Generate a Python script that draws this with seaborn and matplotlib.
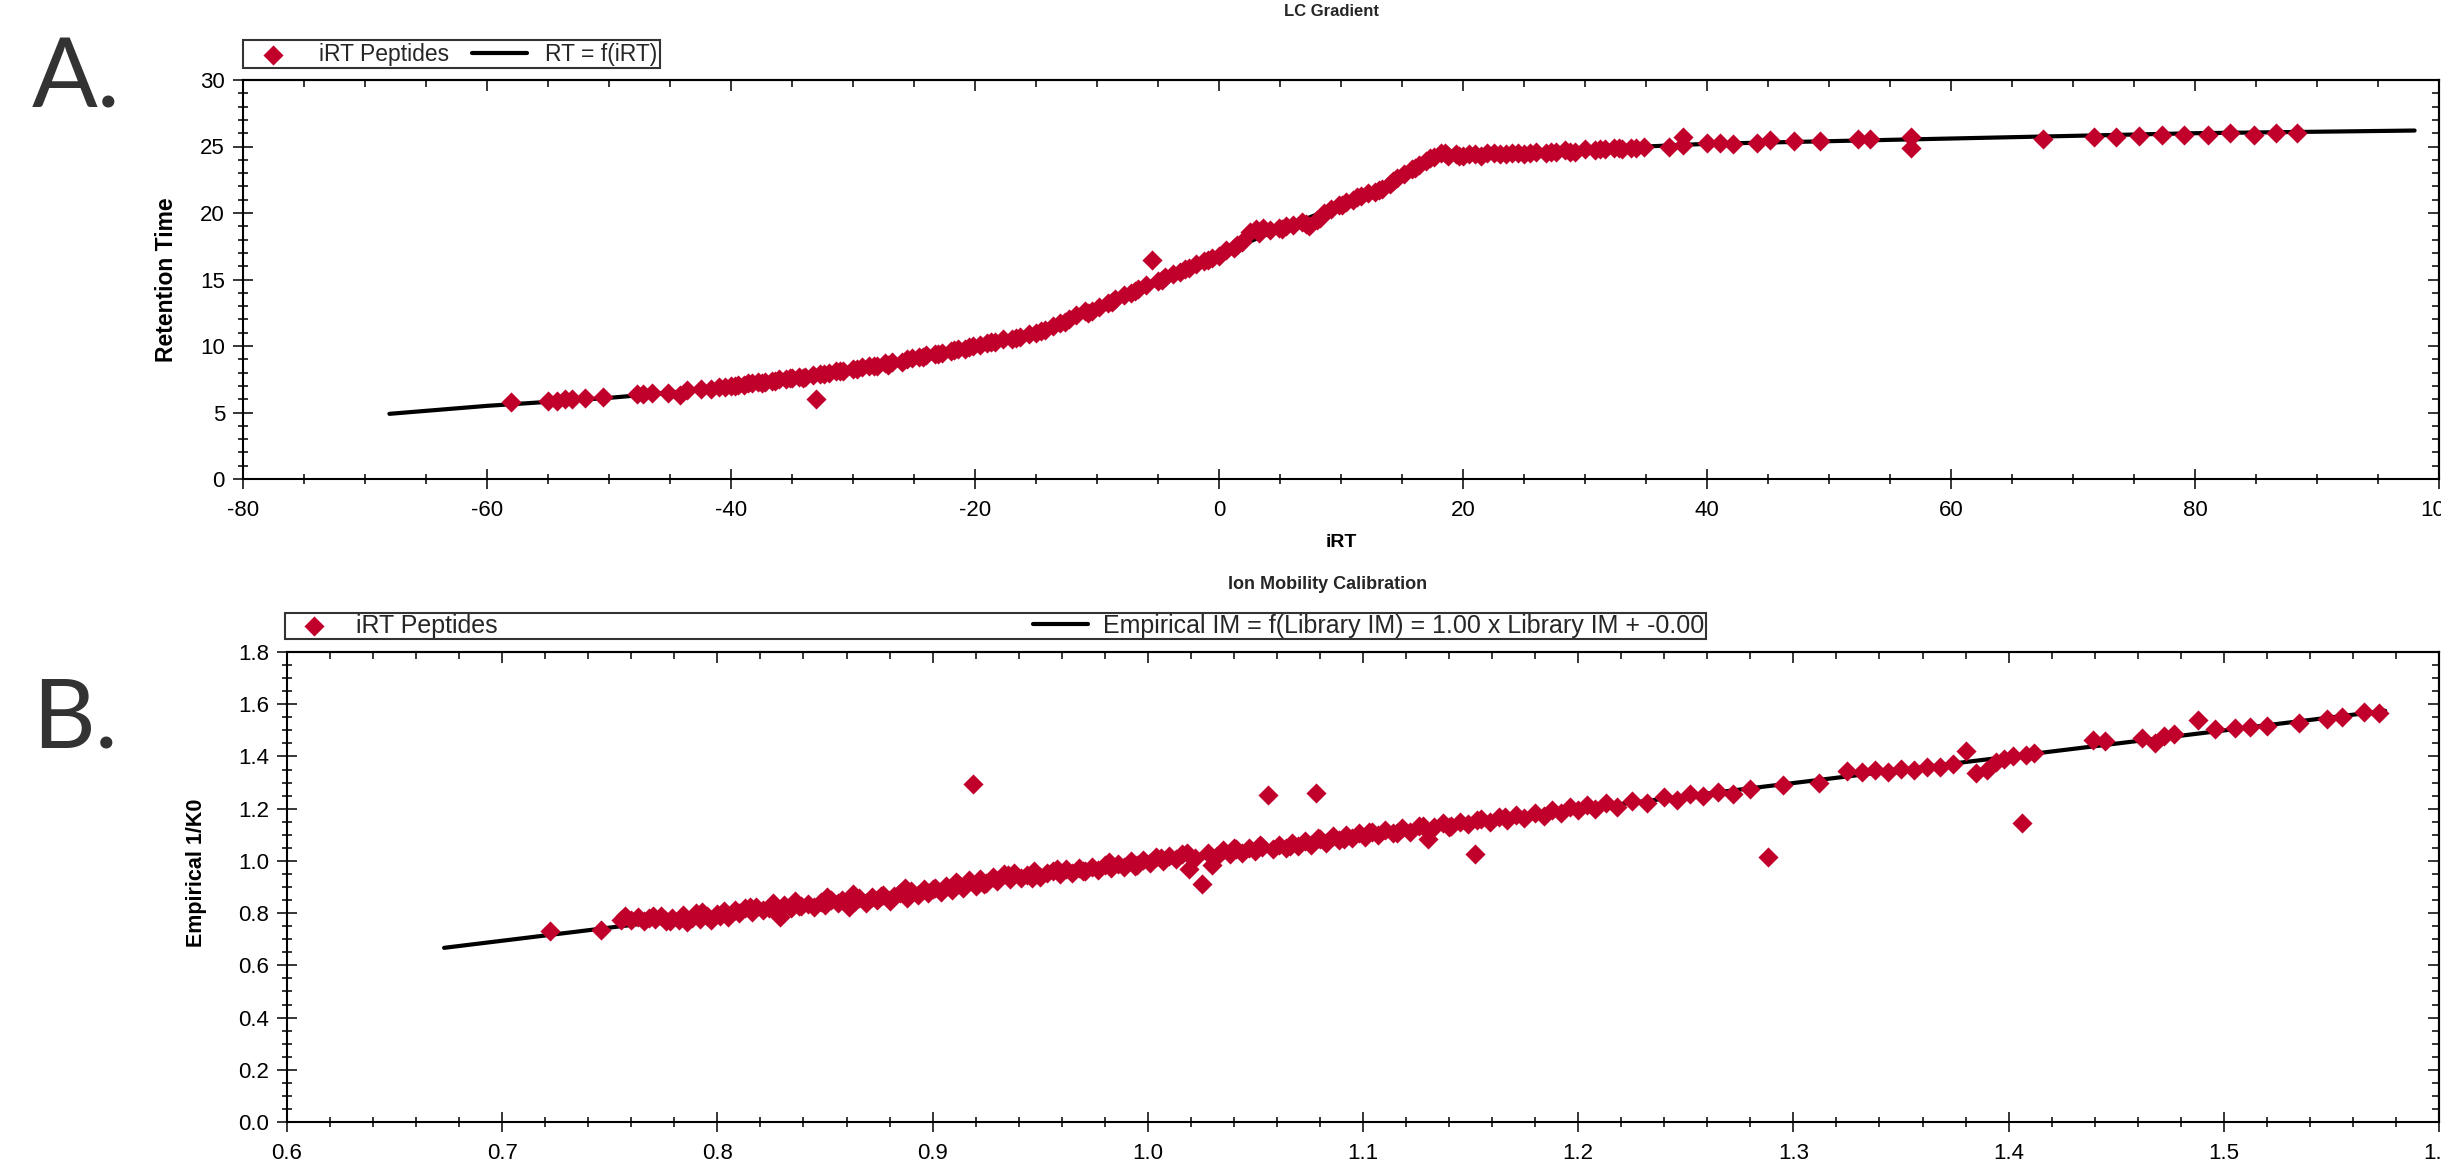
import matplotlib
matplotlib.use("Agg")
import matplotlib.pyplot as plt
import seaborn as sns
from matplotlib.ticker import MultipleLocator, FormatStrFormatter

# ---------------- Panel A : LC Gradient ----------------
lc_irt = [
    -58.0, -55.0, -54.3, -53.6, -53.0, -52.0, -50.5, -47.7, -47.2, -46.5, -45.2, -44.2, -43.6, -42.5,
    -41.6, -41.0, -40.5, -40.0, -39.4, -38.9, -38.3, -37.8, -37.2, -36.6, -36.1, -35.5, -35.0, -34.4,
    -33.9, -33.0, -33.3, -32.7, -32.0, -31.4, -30.8, -30.0, -29.3, -28.7, -28.0, -27.4, -26.8, -26.0,
    -25.2, -24.6, -24.0, -23.3, -22.7, -22.0, -21.4, -20.8, -20.2, -19.6, -19.0, -18.4, -17.7, -17.0,
    -16.3, -15.6, -15.0, -14.3, -13.6, -13.0, -12.3, -11.7, -11.0, -10.4, -9.8, -9.1, -8.5, -7.8,
    -7.2, -6.6, -6.0, -5.5, -5.0, -4.4, -3.8, -3.2, -2.5, -1.9, -1.2, -0.6, 0.0, 0.6, 1.2, 1.9, 2.5,
    3.0, 3.6, 4.2, 4.9, 5.5, 6.1, 6.8, 7.4, 8.0, 8.6, 9.2, 9.8, 10.4, 11.0, 11.6, 12.2, 12.8, 13.4,
    14.0, 14.6, 15.2, 15.8, 16.4, 17.0, 17.6, 18.2, 18.8, 19.4, 20.0, 21.0, 22.0, 23.0, 24.0, 25.0,
    26.0, 26.8, 27.6, 28.4, 29.2, 30.0, 30.8, 31.6, 32.4, 33.0, 33.8, 34.8, 36.9, 38.0, 38.0, 40.0,
    41.1, 42.1, 44.1, 45.2, 47.1, 49.3, 52.4, 53.4, 56.7, 56.7, 67.5, 71.7, 73.5, 75.4, 77.3, 79.1,
    81.1, 82.9, 84.8, 86.6, 88.4,
    -39.7, -38.6, -37.5, -36.4, -35.2, -34.1, -32.4, -31.1, -29.7, -28.3, -27.1, -25.6, -24.3, -23.0,
    -21.7, -20.5, -18.7, -16.6, -14.6, -12.6, -10.7, -8.8, -6.9, -4.7, -2.8, -0.9, 1.5, 3.3, 5.2,
    7.1, 8.3, 10.1, 11.3, 13.1, 14.3, 16.1, 17.3, 18.5, 19.7, 20.5, 21.5, 22.5, 23.5, 24.5, 25.5,
    27.2, 28.8, 31.2, 32.8, 34.2,
]
lc_rt = [
    5.8, 5.9, 5.9, 6.0, 6.0, 6.1, 6.2, 6.4, 6.4, 6.5, 6.5, 6.3, 6.7, 6.8,
    6.8, 6.9, 6.9, 7.0, 7.1, 7.1, 7.2, 7.3, 7.3, 7.4, 7.5, 7.5, 7.6, 7.7,
    7.7, 6.0, 7.8, 7.9, 8.0, 8.1, 8.1, 8.3, 8.4, 8.5, 8.5, 8.7, 8.8, 8.8,
    9.1, 9.2, 9.3, 9.4, 9.5, 9.6, 9.8, 9.8, 10.0, 10.1, 10.2, 10.3, 10.5, 10.5,
    10.7, 10.9, 11.0, 11.2, 11.5, 11.7, 12.0, 12.3, 12.6, 12.6, 12.9, 13.2, 13.5, 13.8,
    14.0, 14.3, 14.6, 16.5, 14.9, 15.2, 15.4, 15.6, 15.9, 16.2, 16.4, 16.6, 16.8, 17.2, 17.4, 17.8, 18.6,
    18.8, 18.9, 18.7, 18.9, 19.0, 19.1, 19.3, 19.0, 19.5, 20.0, 20.3, 20.6, 20.8, 21.0, 21.3, 21.5, 21.6, 21.8,
    22.2, 22.6, 22.9, 23.3, 23.6, 23.9, 24.2, 24.5, 24.3, 24.4, 24.3, 24.4, 24.5, 24.4, 24.5, 24.4,
    24.6, 24.5, 24.6, 24.7, 24.6, 24.8, 24.7, 24.8, 24.9, 24.8, 24.9, 25.0, 25.0, 25.7, 25.1, 25.3,
    25.3, 25.2, 25.3, 25.5, 25.4, 25.4, 25.6, 25.6, 25.7, 24.9, 25.6, 25.7, 25.7, 25.8, 25.9, 25.9,
    25.9, 26.0, 25.9, 26.0, 26.0,
    7.0, 7.2, 7.2, 7.4, 7.6, 7.6, 7.9, 8.1, 8.3, 8.5, 8.6, 9.0, 9.2, 9.4,
    9.7, 9.9, 10.3, 10.6, 11.1, 11.8, 12.5, 13.3, 14.1, 15.0, 15.8, 16.5, 17.6, 18.5, 18.8,
    19.2, 19.6, 20.6, 21.2, 21.7, 22.4, 23.4, 24.1, 24.5, 24.3, 24.4, 24.3, 24.5, 24.4, 24.5, 24.5,
    24.6, 24.6, 24.8, 24.9, 24.9,
]
lc_fit_irt = [-68, -60, -50, -40, -30, -25, -20, -15, -10, -5, 0, 5, 10, 15, 18, 20, 30, 40, 50, 60, 70, 80, 98]
lc_fit_rt = [4.9, 5.5, 6.1, 6.9, 8.2, 9.0, 9.9, 11.0, 12.8, 14.8, 16.9, 18.8, 20.6, 22.6, 24.1, 24.4,
             24.8, 25.2, 25.4, 25.6, 25.8, 26.0, 26.2]

# ---------------- Panel B : Ion Mobility Calibration ----------------
im_library = [
    0.722, 0.746, 0.755, 0.757, 0.760, 0.763, 0.766, 0.768, 0.771, 0.774, 0.776, 0.779, 0.782, 0.784,
    0.786, 0.788, 0.790, 0.792, 0.795, 0.797, 0.800, 0.803, 0.805, 0.808, 0.810, 0.813, 0.816, 0.818,
    0.821, 0.824, 0.827, 0.829, 0.831, 0.834, 0.836, 0.839, 0.842, 0.845, 0.848, 0.850, 0.853, 0.856,
    0.858, 0.861, 0.864, 0.866, 0.869, 0.872, 0.874, 0.877, 0.880, 0.882, 0.885, 0.888, 0.890, 0.893,
    0.896, 0.898, 0.901, 0.904, 0.906, 0.909, 0.912, 0.914, 0.917, 0.919, 0.920, 0.922, 0.925, 0.928,
    0.930, 0.933, 0.936, 0.938, 0.941, 0.944, 0.947, 0.950, 0.953, 0.956, 0.959, 0.962, 0.965, 0.968,
    0.971, 0.974, 0.977, 0.980, 0.983, 0.986, 0.989, 0.992, 0.995, 0.998, 1.001, 1.004, 1.007, 1.010,
    1.013, 1.016, 1.019, 1.022, 1.025, 1.028, 1.030, 1.032, 1.035, 1.038, 1.041, 1.044, 1.047, 1.050,
    1.053, 1.056, 1.058, 1.061, 1.064, 1.067, 1.070, 1.073, 1.076, 1.078, 1.080, 1.083, 1.086, 1.089,
    1.092, 1.095, 1.098, 1.101, 1.104, 1.107, 1.110, 1.114, 1.118, 1.122, 1.126, 1.130, 1.133, 1.137,
    1.141, 1.145, 1.149, 1.152, 1.155, 1.159, 1.163, 1.167, 1.171, 1.175, 1.180, 1.184, 1.188, 1.192,
    1.196, 1.200, 1.204, 1.208, 1.213, 1.218, 1.225, 1.232, 1.240, 1.246, 1.252, 1.258, 1.265, 1.272,
    1.280, 1.288, 1.295, 1.312, 1.325, 1.332, 1.338, 1.344, 1.350, 1.356, 1.362, 1.368, 1.374, 1.380,
    1.385, 1.390, 1.394, 1.398, 1.402, 1.406, 1.408, 1.412, 1.439, 1.445, 1.462, 1.468, 1.472, 1.477,
    1.488, 1.496, 1.505, 1.512, 1.520, 1.535, 1.548, 1.555, 1.565, 1.572,
    0.770, 0.778, 0.793, 0.801, 0.815, 0.826, 0.838, 0.851, 0.863, 0.876, 0.887, 0.900, 0.911, 0.924,
    0.935, 0.946, 0.958, 0.970, 0.982, 0.994, 1.006, 1.018, 1.040, 1.052, 1.066, 1.079, 1.091, 1.103,
    1.116, 1.128, 1.140, 1.153, 1.166,
]
im_empirical = [
    0.732, 0.737, 0.772, 0.790, 0.775, 0.785, 0.770, 0.782, 0.776, 0.788, 0.770, 0.780, 0.774, 0.792,
    0.766, 0.783, 0.800, 0.778, 0.790, 0.772, 0.795, 0.808, 0.785, 0.812, 0.800, 0.818, 0.806, 0.822,
    0.812, 0.820, 0.808, 0.785, 0.830, 0.818, 0.845, 0.828, 0.836, 0.822, 0.842, 0.832, 0.850, 0.838,
    0.852, 0.825, 0.848, 0.858, 0.840, 0.862, 0.850, 0.870, 0.845, 0.866, 0.878, 0.858, 0.885, 0.870,
    0.892, 0.876, 0.895, 0.880, 0.905, 0.888, 0.912, 0.896, 0.925, 1.293, 0.905, 0.930, 0.915, 0.940,
    0.922, 0.948, 0.930, 0.952, 0.935, 0.945, 0.960, 0.940, 0.955, 0.962, 0.948, 0.968, 0.955, 0.972,
    0.960, 0.978, 0.965, 0.985, 0.972, 0.990, 0.978, 1.000, 0.985, 1.005, 0.992, 1.015, 1.000, 1.020,
    1.008, 1.025, 0.970, 1.012, 0.913, 1.030, 0.983, 1.018, 1.040, 1.025, 1.045, 1.032, 1.050, 1.038,
    1.055, 1.254, 1.045, 1.062, 1.050, 1.068, 1.058, 1.075, 1.062, 1.259, 1.085, 1.070, 1.095, 1.080,
    1.100, 1.088, 1.105, 1.092, 1.112, 1.098, 1.118, 1.105, 1.125, 1.112, 1.135, 1.082, 1.128, 1.145,
    1.135, 1.150, 1.140, 1.027, 1.160, 1.148, 1.168, 1.158, 1.175, 1.165, 1.185, 1.172, 1.195, 1.182,
    1.205, 1.195, 1.215, 1.200, 1.220, 1.208, 1.230, 1.222, 1.245, 1.235, 1.258, 1.250, 1.262, 1.255,
    1.275, 1.015, 1.290, 1.300, 1.345, 1.340, 1.348, 1.342, 1.352, 1.350, 1.360, 1.358, 1.370, 1.420,
    1.335, 1.350, 1.380, 1.392, 1.400, 1.145, 1.405, 1.415, 1.462, 1.458, 1.470, 1.452, 1.480, 1.485,
    1.540, 1.505, 1.510, 1.512, 1.518, 1.530, 1.545, 1.552, 1.572, 1.568,
    0.788, 0.768, 0.805, 0.790, 0.822, 0.838, 0.826, 0.860, 0.872, 0.864, 0.898, 0.892, 0.920, 0.910,
    0.945, 0.936, 0.970, 0.962, 0.995, 0.980, 1.010, 1.030, 1.048, 1.060, 1.058, 1.088, 1.082, 1.110,
    1.108, 1.132, 1.130, 1.158, 1.170,
]
im_fit_library = [0.673, 1.575]
im_fit_empirical = [0.667, 1.575]

RED = "#C0002B"
W, H, DPI = 2441, 1171, 100

sns.set_theme(style="ticks")
plt.rcParams["font.family"] = ["Liberation Sans", "DejaVu Sans"]
plt.rcParams["axes.unicode_minus"] = False

fig = plt.figure(figsize=(W / DPI, H / DPI), dpi=DPI)
fig.patch.set_facecolor("white")


def fx(px):
    return px / W


def fy(py):
    return 1 - py / H


ax1 = fig.add_axes([fx(243), fy(479), (2439 - 243) / W, (479 - 80) / H])
ax2 = fig.add_axes([fx(287), fy(1122), (2439 - 287) / W, (1122 - 652) / H])

MS = 105

# --- draw panel A
sns.lineplot(x=lc_fit_irt, y=lc_fit_rt, color="black", linewidth=3.0, ax=ax1,
             label="RT = f(iRT)", sort=False, zorder=2)
sns.scatterplot(x=lc_irt, y=lc_rt, marker="D", s=MS, color=RED, linewidth=0, ax=ax1,
                label="iRT Peptides", zorder=3)

# --- draw panel B
sns.lineplot(x=im_fit_library, y=im_fit_empirical, color="black", linewidth=3.0, ax=ax2,
             label="Empirical IM = f(Library IM) = 1.00 x Library IM + -0.00", sort=False, zorder=2)
sns.scatterplot(x=im_library, y=im_empirical, marker="D", s=MS, color=RED, linewidth=0, ax=ax2,
                label="iRT Peptides", zorder=3)


def style_axes(ax, xlim, ylim, xmaj, xmin, ymaj, ymin, fmt_x, fmt_y):
    ax.set_xlim(*xlim)
    ax.set_ylim(*ylim)
    ax.set_facecolor("white")
    for s in ax.spines.values():
        s.set_visible(True)
        s.set_linewidth(1.5)
        s.set_color("black")
    ax.xaxis.set_major_locator(MultipleLocator(xmaj))
    ax.xaxis.set_minor_locator(MultipleLocator(xmin))
    ax.yaxis.set_major_locator(MultipleLocator(ymaj))
    ax.yaxis.set_minor_locator(MultipleLocator(ymin))
    ax.xaxis.set_major_formatter(FormatStrFormatter(fmt_x))
    ax.yaxis.set_major_formatter(FormatStrFormatter(fmt_y))
    ax.tick_params(which="major", direction="inout", length=14, width=1.1, color="black",
                   labelsize=16, labelcolor="black", top=False, right=False)
    ax.tick_params(which="minor", direction="inout", length=7, width=1.1, color="black",
                   top=False, right=False)
    ax.tick_params(axis="x", which="major", pad=8)
    ax.tick_params(axis="y", which="major", pad=6)
    # inward ticks on top and right
    sx = ax.secondary_xaxis("top")
    sx.xaxis.set_major_locator(MultipleLocator(xmaj))
    sx.xaxis.set_minor_locator(MultipleLocator(xmin))
    sx.tick_params(which="major", direction="in", length=8, width=1.1, color="black", labeltop=False)
    sx.tick_params(which="minor", direction="in", length=5, width=1.1, color="black")
    sy = ax.secondary_yaxis("right")
    sy.yaxis.set_major_locator(MultipleLocator(ymaj))
    sy.yaxis.set_minor_locator(MultipleLocator(ymin))
    sy.tick_params(which="major", direction="in", length=8, width=1.1, color="black", labelright=False)
    sy.tick_params(which="minor", direction="in", length=5, width=1.1, color="black")
    for sec in (sx, sy):
        for s in sec.spines.values():
            s.set_linewidth(1.5)
            s.set_color("black")


style_axes(ax1, (-80, 100), (0, 30), 20, 5, 5, 1, "%d", "%d")
style_axes(ax2, (0.6, 1.6), (0.0, 1.8), 0.1, 0.02, 0.2, 0.05, "%.1f", "%.1f")

# axis labels
ax1.set_xlabel("iRT", fontsize=14, fontweight="bold", color="black")
ax1.xaxis.set_label_coords(0.5, (479 - 534) / 399)
ax1.set_ylabel("Retention Time", fontsize=16.5, fontweight="bold", color="black")
ax1.yaxis.set_label_coords((178 - 243) / 2196, 0.5)
ax2.set_xlabel("")
ax2.set_ylabel("Empirical 1/K0", fontsize=15.5, fontweight="bold", color="black")
ax2.yaxis.set_label_coords((207 - 287) / 2152, 0.53)

# legends
h1, l1 = ax1.get_legend_handles_labels()
order1 = [l1.index("iRT Peptides"), l1.index("RT = f(iRT)")]
leg1 = ax1.legend([h1[i] for i in order1], [l1[i] for i in order1],
                  loc="lower left", bbox_to_anchor=(fx(243), fy(68)), bbox_transform=fig.transFigure,
                  ncol=2, frameon=True, fancybox=False, shadow=False, edgecolor="black",
                  fontsize=16.5, borderpad=0.1, handlelength=2.4, handletextpad=0.8,
                  columnspacing=1.0, borderaxespad=0)
leg1.get_frame().set_linewidth(1.5)

h2, l2 = ax2.get_legend_handles_labels()
order2 = [l2.index("iRT Peptides"), 1 - l2.index("iRT Peptides")]
leg2 = ax2.legend([h2[i] for i in order2], [l2[i] for i in order2],
                  loc="lower left", bbox_to_anchor=(fx(285), fy(639), (1706 - 285) / W, (639 - 612) / H),
                  bbox_transform=fig.transFigure, mode="expand",
                  ncol=2, frameon=True, fancybox=False, shadow=False, edgecolor="black",
                  fontsize=18, borderpad=0.05, handlelength=2.2, handletextpad=0.6,
                  columnspacing=1.0, borderaxespad=0)
leg2.get_frame().set_linewidth(1.5)

# titles
fig.text(fx(1331), fy(12), "LC Gradient", ha="center", va="center", fontsize=12, fontweight="bold")
fig.text(fx(1328), fy(584), "Ion Mobility Calibration", ha="center", va="center", fontsize=13,
         fontweight="bold")

# panel letters
fig.text(fx(32), fy(80), "A.", ha="left", va="center", fontsize=70, family=["Lato", "DejaVu Sans"],
         weight="normal", color="#333333")
fig.text(fx(32), fy(720), "B.", ha="left", va="center", fontsize=70, family=["Lato", "DejaVu Sans"],
         weight="normal", color="#333333")

fig.savefig("out.png", dpi=DPI, facecolor="white")
